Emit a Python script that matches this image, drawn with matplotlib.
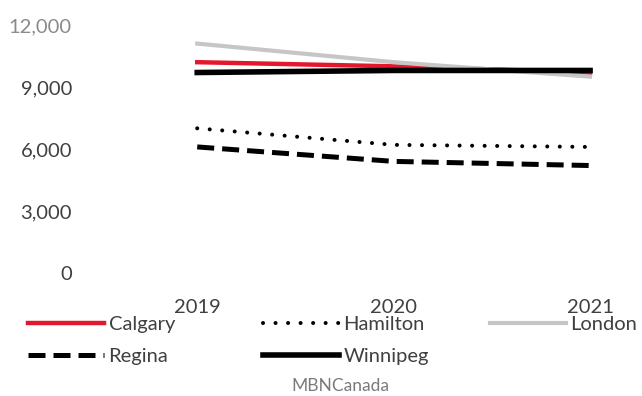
import matplotlib
matplotlib.use("Agg")
import matplotlib.pyplot as plt

years = ["2019", "2020", "2021"]
calgary = [10200, 10000, 9700]
hamilton = [7000, 6200, 6100]
london = [11100, 10200, 9500]
regina = [6100, 5400, 5200]
winnipeg = [9700, 9800, 9800]
y_ticks = [0, 3000, 6000, 9000, 12000]
source = "MBNCanada"

plt.rcParams["font.family"] = ["Lato", "DejaVu Sans"]
text_col = "#404040"

fig = plt.figure(figsize=(6.42, 3.96), dpi=100)
ax = fig.add_axes([0.125, 0.3106, 0.855, 0.6263])

x = list(range(len(years)))
styles = {
    "Calgary": dict(color="#e3182d", lw=3.2),
    "Hamilton": dict(color="black", lw=2.9, linestyle=(0, (0.01, 3.1)),
                     dash_capstyle="round"),
    "London": dict(color="#c6c6c6", lw=3.0),
    "Regina": dict(color="black", lw=3.6, linestyle=(0, (3.4, 1.6))),
    "Winnipeg": dict(color="black", lw=4.0),
}
series = {"Calgary": calgary, "Hamilton": hamilton, "London": london,
          "Regina": regina, "Winnipeg": winnipeg}
handles = {}
for name, vals in series.items():
    handles[name], = ax.plot(x, vals, label=name, **styles[name])

ax.set_xlim(-0.5955, 2.199)
ax.set_ylim(0, 12000)
ax.set_xticks(x)
ax.set_xticklabels(years)
ax.set_yticks(y_ticks)
ax.set_yticklabels([f"{v:,}" for v in y_ticks])
ax.tick_params(axis="both", length=0, labelsize=14.5, colors=text_col)
ax.tick_params(axis="x", pad=19)
ax.tick_params(axis="y", pad=6)
ax.get_yticklabels()[-1].set_color("#8a8a8a")
for s in ax.spines.values():
    s.set_visible(False)

# excel-style legend with fixed column starts
cols = [(["Calgary", "Regina"], 28), (["Hamilton", "Winnipeg"], 263), (["London"], 490)]
for names, px in cols:
    fig.legend([handles[n] for n in names], names, loc="upper left",
               bbox_to_anchor=(px / 642, 1 - 316 / 396), frameon=False,
               fontsize=14.5, handlelength=3.75, handletextpad=0.25,
               borderpad=0, borderaxespad=0, labelspacing=0.75,
               labelcolor=text_col)

fig.text(340 / 642, 1 - 386 / 396, source, ha="center", va="center",
         fontsize=12.5, color="#7a7a7a")

fig.savefig("out.png", dpi=100, facecolor="white")
